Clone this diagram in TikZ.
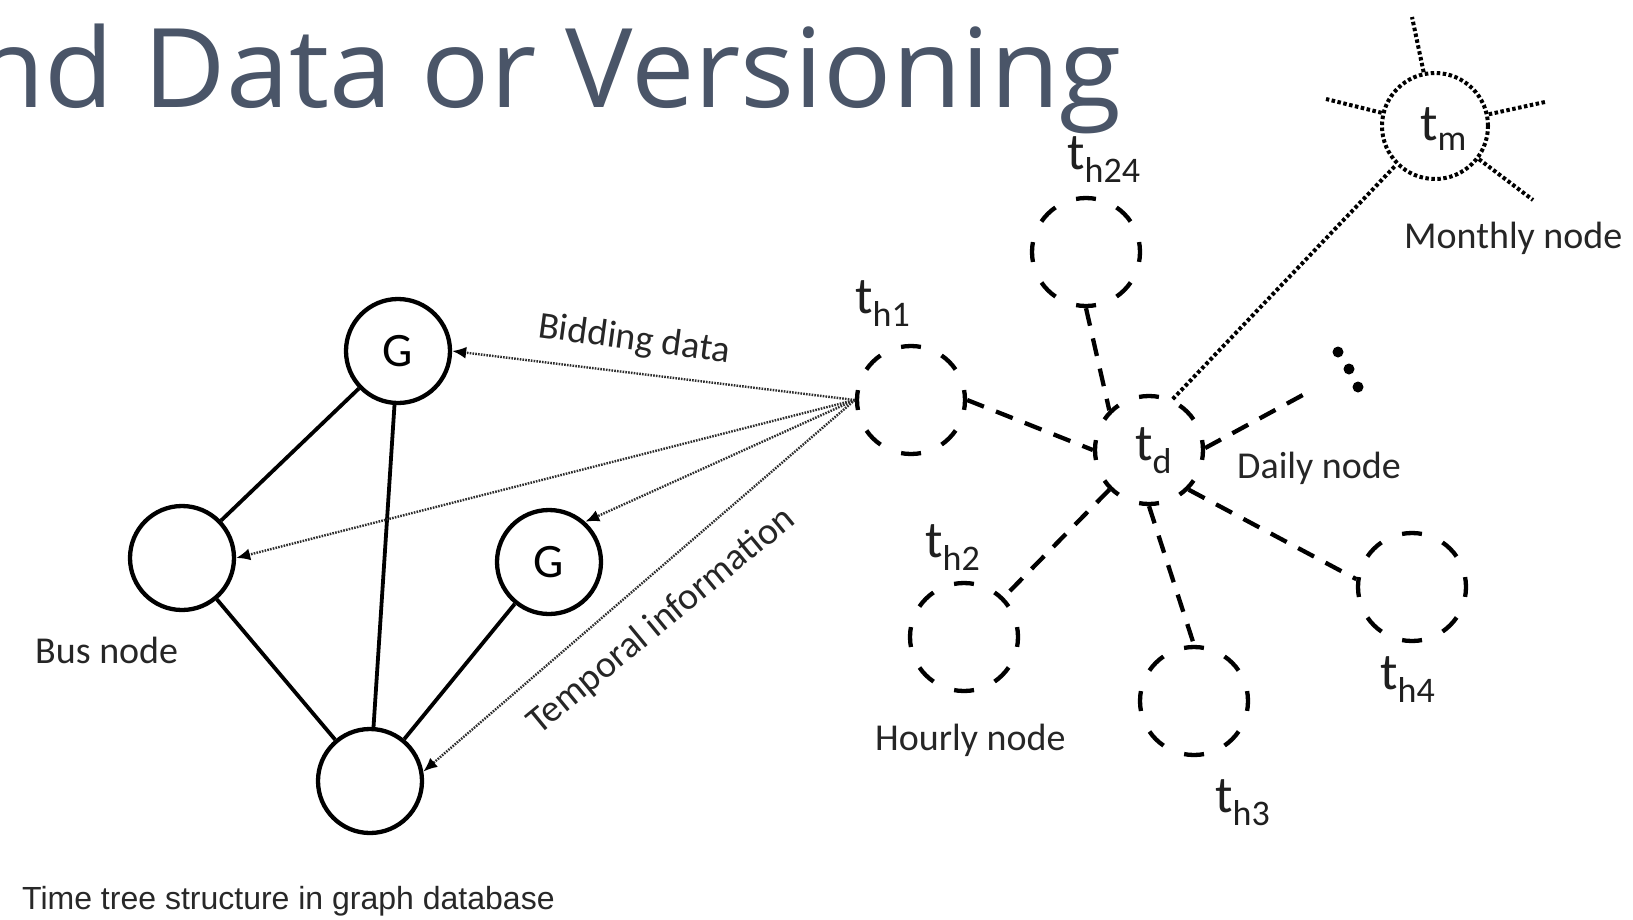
\documentclass[tikz,border=0pt]{standalone}
\usepackage{fontspec}
\usepackage{graphicx}
\setmainfont{Carlito}
\newfontfamily\titlefont{Open Sans}
\newfontfamily\capfont{Liberation Sans}
\usetikzlibrary{arrows.meta}

\definecolor{titlegray}{RGB}{74,85,104}
\definecolor{capgray}{RGB}{40,40,40}
\definecolor{feedgray}{RGB}{45,45,45}

% time label: big t with a lowered index
\newcommand{\tsub}[1]{{\fontsize{52}{52}\selectfont t}\raisebox{-13pt}{\fontsize{36}{36}\selectfont #1}}

\begin{document}
\begin{tikzpicture}[x=1pt, y=-1pt,
  busnode/.style={circle, draw, line width=4.3pt, minimum size=104pt, inner sep=0pt,
    font=\fontsize{48}{48}\selectfont},
  hournode/.style={circle, draw, line width=4.3pt, minimum size=108pt, inner sep=0pt,
    dash pattern=on 20pt off 22.41pt, dash phase=10pt},
  monthnode/.style={circle, draw, line width=4pt, minimum size=106pt, inner sep=0pt,
    dash pattern=on 3.5pt off 2.5pt},
  solidlink/.style={line width=3.8pt},
  hourlink/.style={line width=4.3pt, dash pattern=on 18pt off 13pt},
  dotlink/.style={line width=4pt, dash pattern=on 3.5pt off 2.5pt},
  feed/.style={draw=feedgray, line width=2.4pt, dash pattern=on 1.6pt off 1.2pt,
    -{Latex[length=14pt, width=12pt, color=black]}},
  tlab/.style={anchor=base west, inner sep=0pt, text=black!88},
  lbl/.style={anchor=base west, inner sep=0pt, font=\fontsize{38}{38}\selectfont, text=black!85},
]
\useasboundingbox (0,0) rectangle (1633,919);
\fill[white] (0,0) rectangle (1633,919);

% heading
\node[anchor=base east, inner sep=0pt, text=titlegray,
  font=\titlefont\fontsize{110}{110}\selectfont] (title) at (1122,107)
  {\scalebox{1.03}[1]{nd Data or Versioning}};

% bus graph
\node[busnode] (gtop) at (398,351) {G};
\node[busnode] (bus)  at (182,558) {};
\node[busnode] (gmid) at (549,562) {G};
\node[busnode] (bot)  at (370,781) {};

\draw[solidlink] (gtop) -- (bus);
\draw[solidlink] (gtop) -- (bot);
\draw[solidlink] (gmid) -- (bot);
\draw[solidlink] (bus) -- (bot);

\node[lbl] (buslbl) at (35,663) {Bus node};

% time tree
\node[hournode] (th1)  at (911,400) {};
\node[hournode] (td)   at (1149,450) {};
\node[hournode] (th24) at (1086,252) {};
\node[hournode] (th2)  at (964,637) {};
\node[hournode] (th3)  at (1194,701) {};
\node[hournode] (th4)  at (1412,587) {};
\node[monthnode] (tm)  at (1435,126) {};

\node[tlab] (lh1)  at (855,313)  {\tsub{h1}};
\node[tlab] (lh24) at (1067,169) {\tsub{h24}};
\node[tlab] (lh2)  at (925,557)  {\tsub{h2}};
\node[tlab] (lh3)  at (1215,812) {\tsub{h3}};
\node[tlab] (lh4)  at (1380,689) {\tsub{h4}};
\node[tlab] (ld)   at (1135,460) {\tsub{d}};
\node[tlab] (lm)   at (1420,140) {{\fontsize{52}{52}\selectfont t}\raisebox{-10pt}{\fontsize{36}{36}\selectfont m}};

\node[lbl] (monthlbl) at (1404,248) {Monthly node};
\node[lbl] (daylbl)   at (1237,478) {Daily node};
\node[lbl] (hourlbl)  at (875,750)  {Hourly node};

\draw[hourlink] (th1.0) -- (td.180);
\draw[hourlink] (th24.270) -- (td.135);
\draw[hourlink] (td.225) -- (th2.45);
\draw[hourlink] (td.270) -- (th3.90);
\draw[hourlink] (td.315) -- (th4.172);
\coordinate (more) at (1312,390);
\draw[hourlink] (td.2) -- (more);
\fill (1338,352) circle (5.5pt) (1349,369) circle (5.5pt) (1358,387) circle (5.5pt);

% monthly node spokes
\coordinate (sp1) at (1412,17);
\coordinate (sp2) at (1326,99);
\coordinate (sp3) at (1545,102);
\coordinate (sp4) at (1533,200);
\draw[dotlink] (tm) -- (sp1);
\draw[dotlink] (tm) -- (sp2);
\draw[dotlink] (tm) -- (sp3);
\draw[dotlink] (tm) -- (sp4);
\draw[dotlink] (td.65) -- (tm.225);

% data fed from the first hourly node
\draw[feed] (th1.180) -- (gtop.0);
\draw[feed] (th1.180) -- (bus.0);
\draw[feed] (th1.180) -- (gmid.48);
\draw[feed] (th1.180) -- (bot.10);

\node[anchor=base, inner sep=0pt, rotate=-7.7, font=\fontsize{38}{38}\selectfont, text=black!85]
  (bidlbl) at (633,350) {Bidding data};
\node[anchor=base, inner sep=0pt, rotate=39.5, font=\fontsize{38}{38}\selectfont, text=black!85]
  (templbl) at (668,629) {Temporal information};

% caption
\node[anchor=base west, inner sep=0pt, text=capgray,
  font=\capfont\fontsize{32}{32}\selectfont] (caption) at (22,909)
  {Time tree structure in graph database};
\end{tikzpicture}
\end{document}
